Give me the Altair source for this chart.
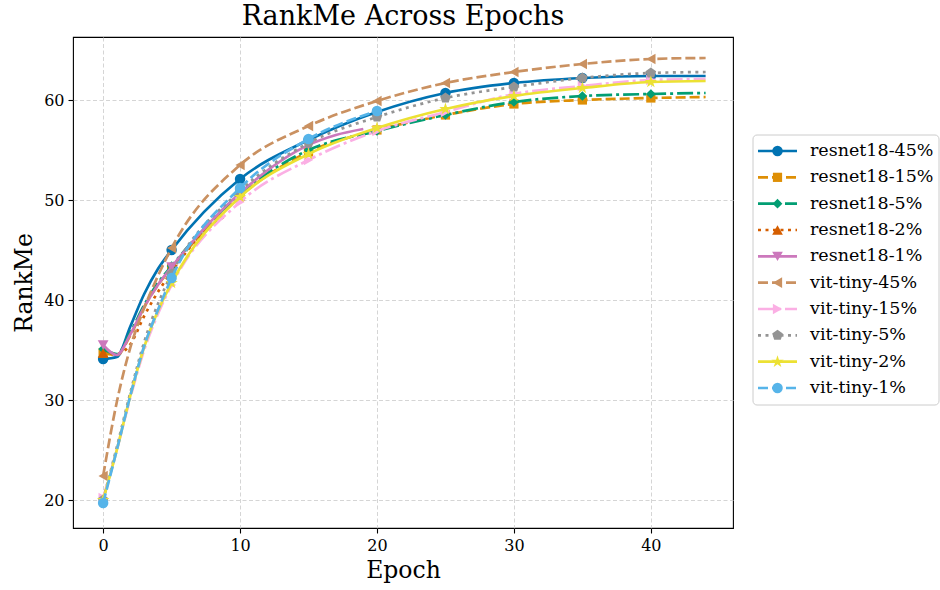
import altair as alt
import pandas as pd

# ---------------- data ----------------
SERIES = ["resnet18-45%", "resnet18-15%", "resnet18-5%", "resnet18-2%", "resnet18-1%",
          "vit-tiny-45%", "vit-tiny-15%", "vit-tiny-5%", "vit-tiny-2%", "vit-tiny-1%"]

EPOCHS_FULL = [0, 1, 2, 3, 4, 5, 10, 15, 20, 25, 30, 35, 40, 44]

resnet18_45 = [34.1, 34.3, 37.4, 40.6, 43.1, 45.0, 52.1, 56.0, 58.8, 60.7, 61.7, 62.2, 62.4, 62.4]
resnet18_15 = [34.7, 34.5, 36.5, 39.3, 41.5, 43.2, 50.4, 54.8, 57.0, 58.5, 59.6, 60.0, 60.2, 60.3]
resnet18_5 = [35.1, 34.6, 36.8, 39.5, 41.7, 43.4, 50.6, 55.0, 56.9, 58.5, 59.8, 60.4, 60.6, 60.7]
EPOCHS_R2 = [0, 1, 2, 3, 4, 5, 7, 9]
resnet18_2 = [34.7, 34.6, 35.6, 38.4, 40.8, 42.8, 46.3, 48.5]
EPOCHS_R1 = [0, 1, 2, 3, 4, 5, 10, 15, 17, 19]
resnet18_1 = [35.5, 34.5, 36.6, 39.3, 41.5, 43.3, 50.7, 55.5, 56.5, 57.1]
vit_45 = [22.4, 29.8, 35.3, 39.2, 42.4, 45.2, 53.5, 57.4, 59.9, 61.7, 62.8, 63.6, 64.1, 64.2]
vit_15 = [20.2, 25.0, 30.3, 35.0, 38.6, 41.5, 49.8, 54.0, 56.9, 58.8, 60.6, 61.4, 62.0, 62.1]
vit_5 = [20.0, 25.3, 30.8, 35.8, 39.6, 42.6, 50.9, 55.7, 58.3, 60.2, 61.3, 62.2, 62.7, 62.8]
vit_2 = [20.0, 25.0, 30.5, 35.3, 38.9, 41.7, 50.3, 54.6, 57.2, 59.1, 60.4, 61.2, 61.8, 61.9]
EPOCHS_V1 = [0, 1, 2, 3, 4, 5, 10, 15, 20]
vit_1 = [19.7, 25.0, 30.5, 35.4, 39.0, 42.2, 51.2, 56.1, 58.9]

SERIES_DATA = {
    "resnet18-45%": (EPOCHS_FULL, resnet18_45),
    "resnet18-15%": (EPOCHS_FULL, resnet18_15),
    "resnet18-5%": (EPOCHS_FULL, resnet18_5),
    "resnet18-2%": (EPOCHS_R2, resnet18_2),
    "resnet18-1%": (EPOCHS_R1, resnet18_1),
    "vit-tiny-45%": (EPOCHS_FULL, vit_45),
    "vit-tiny-15%": (EPOCHS_FULL, vit_15),
    "vit-tiny-5%": (EPOCHS_FULL, vit_5),
    "vit-tiny-2%": (EPOCHS_FULL, vit_2),
    "vit-tiny-1%": (EPOCHS_V1, vit_1),
}

# ---------------- styles ----------------
COLORS = ["#0173b2", "#de8f05", "#029e73", "#d55e00", "#cc78bc",
          "#ca9161", "#fbafe4", "#949494", "#ece133", "#56b4e9"]
DASHES = [None, [10, 4], [16, 4, 3, 4], [3, 4.5]] * 3
PENTAGON = "M0,-1L0.951,-0.309L0.588,0.809L-0.588,0.809L-0.951,-0.309Z"
STAR = ("M0,-1L0.225,-0.309L0.951,-0.309L0.363,0.118L0.588,0.809L0,0.382"
        "L-0.588,0.809L-0.363,0.118L-0.951,-0.309L-0.225,-0.309Z")
SHAPES = ["circle", "square", "diamond", "triangle-up", "triangle-down",
          "triangle-left", "triangle-right", PENTAGON, STAR, "circle"]
SIZES = [110, 85, 95, 115, 115, 115, 115, 125, 170, 110]

rows = []
for name in SERIES:
    ep, vals = SERIES_DATA[name]
    for e, v in zip(ep, vals):
        rows.append({"series": name, "epoch": e, "rankme": v})
df = pd.DataFrame(rows)

FONT = "DejaVu Serif"
LW = 2.7

X = alt.X("epoch:Q", scale=alt.Scale(domain=[-2.2, 46.0], nice=False, zero=False),
          axis=alt.Axis(values=[0, 10, 20, 30, 40], title="Epoch"))
Y = alt.Y("rankme:Q", scale=alt.Scale(domain=[17.2, 66.3], nice=False, zero=False),
          axis=alt.Axis(values=[20, 30, 40, 50, 60], title="RankMe"))

base = alt.Chart(df)
main_layers = []
for i, name in enumerate(SERIES):
    lkw = dict(color=COLORS[i], strokeWidth=LW, interpolate="monotone", strokeCap="butt")
    if DASHES[i] is not None:
        lkw["strokeDash"] = DASHES[i]
    line = base.transform_filter(alt.datum.series == name).mark_line(**lkw).encode(x=X, y=Y)
    pts = (base.transform_filter(alt.datum.series == name)
           .transform_filter("datum.epoch % 5 == 0")
           .mark_point(shape=SHAPES[i], filled=True, size=SIZES[i], color=COLORS[i], opacity=1)
           .encode(x=X, y=Y))
    main_layers += [line, pts]

main = alt.layer(*main_layers)

# ---------------- legend (drawn as marks on an ordinal scale of series) ----------------
leg_df = pd.DataFrame({"series": SERIES})
LY = alt.Y("series:N", sort=SERIES, axis=None,
           scale=alt.Scale(type="point", range=[114, 351], padding=0))
legend_layers = [
    alt.Chart(pd.DataFrame({"k": [0]})).mark_rect(
        fill="white", stroke="#cccccc", strokeWidth=1, cornerRadius=4
    ).encode(x=alt.value(680), x2=alt.value(866), y=alt.value(98), y2=alt.value(368))
]
leg_base = alt.Chart(leg_df)
for i, name in enumerate(SERIES):
    lkw = dict(color=COLORS[i], strokeWidth=LW, strokeCap="butt")
    if DASHES[i] is not None:
        lkw["strokeDash"] = DASHES[i]
    legend_layers.append(
        leg_base.transform_filter(alt.datum.series == name).mark_rule(**lkw)
        .encode(x=alt.value(685), x2=alt.value(724), y=LY))
    legend_layers.append(
        leg_base.transform_filter(alt.datum.series == name)
        .mark_point(shape=SHAPES[i], filled=True, size=SIZES[i], color=COLORS[i], opacity=1)
        .encode(x=alt.value(704.5), y=LY))
legend_layers.append(
    leg_base.mark_text(align="left", baseline="middle", font=FONT, fontSize=17.5, color="black")
    .encode(x=alt.value(737), y=LY, text="series:N"))
legend = alt.layer(*legend_layers)

chart = (
    alt.layer(main, legend)
    .resolve_scale(y="independent", x="independent")
    .properties(
        width=660, height=491,
        title=alt.TitleParams("RankMe Across Epochs", font=FONT, fontSize=27,
                              fontWeight="normal", color="black", anchor="middle", offset=6),
        autosize=alt.AutoSizeParams(type="none"),
        padding={"left": 73, "top": 37, "right": 207, "bottom": 62},
    )
    .configure_view(stroke="black", strokeWidth=1.1)
    .configure_axis(
        labelFont=FONT, labelFontSize=16, labelColor="black",
        titleFont=FONT, titleFontSize=23.5, titleFontWeight="normal", titleColor="black",
        tickColor="black", tickSize=5, tickWidth=1.1, domain=False,
        grid=True, gridColor="#d0d0d0", gridDash=[4, 2.5], gridWidth=0.9,
        labelPadding=4,
    )
    .configure_axisX(titlePadding=5)
    .configure_axisY(titlePadding=7)
)

chart.save("out.html", embed_options={"renderer": "svg", "actions": False})
